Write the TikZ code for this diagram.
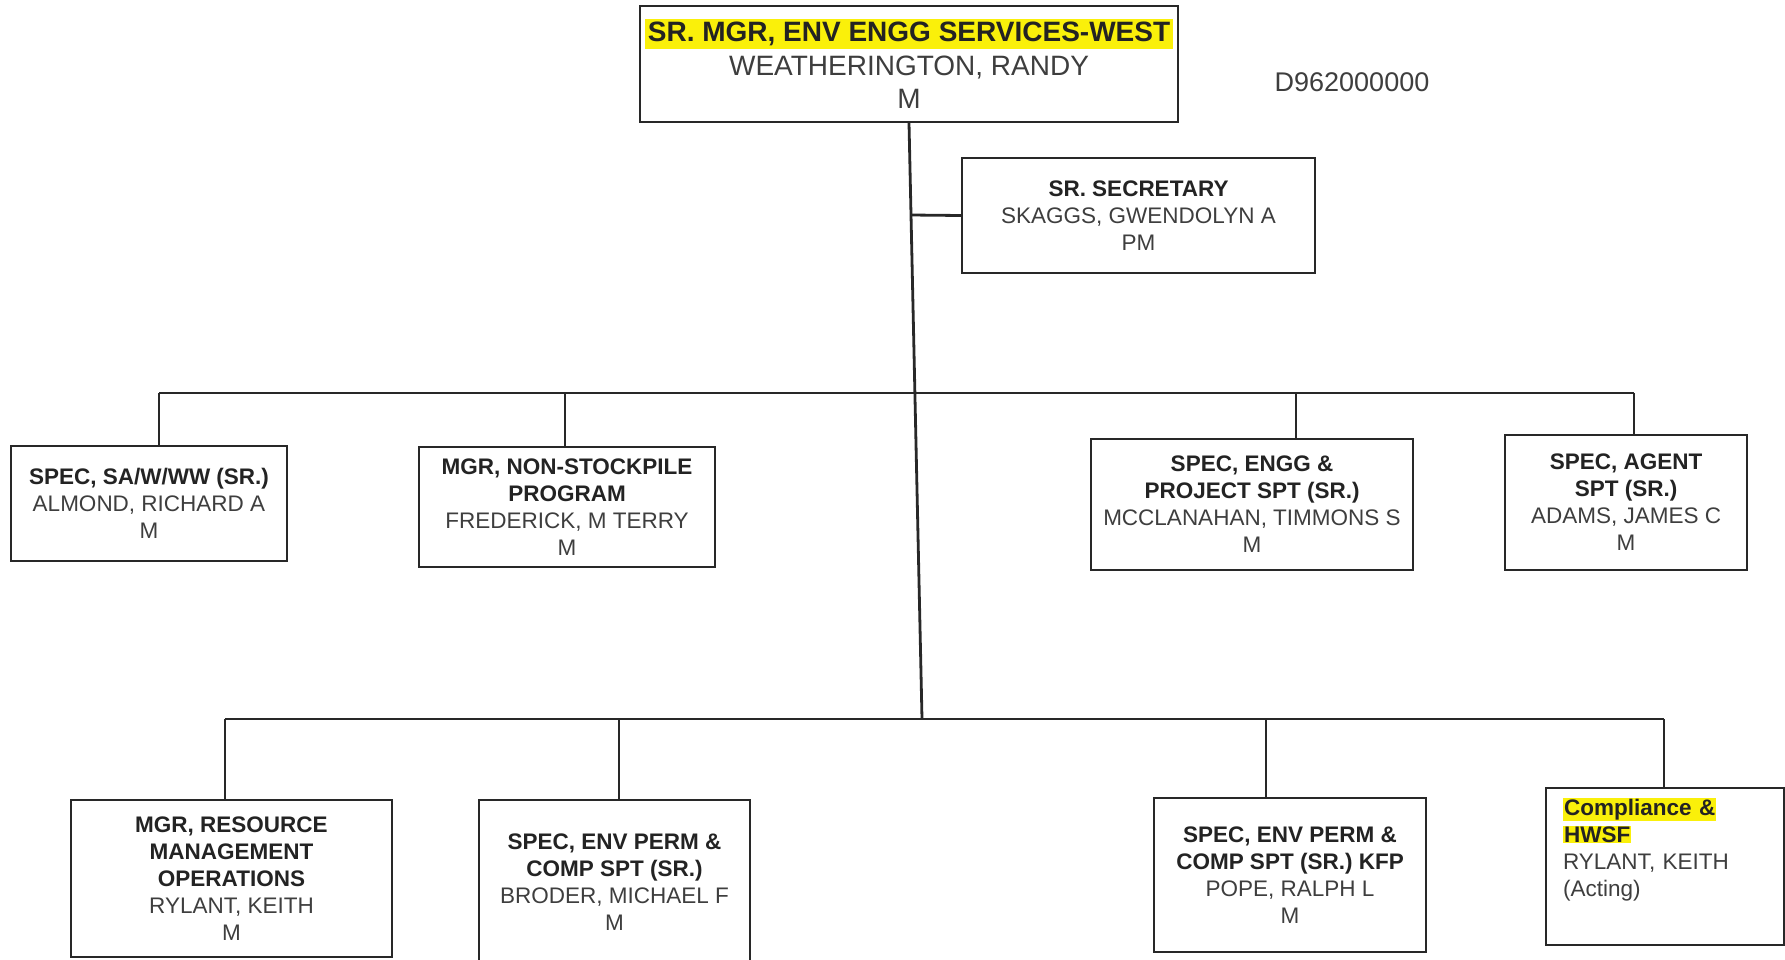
\documentclass[tikz,border=0pt]{standalone}
\usepackage{fontspec}
\setmainfont{Liberation Sans}
\definecolor{hly}{RGB}{250,240,10}
\definecolor{txt}{RGB}{62,62,62}
\definecolor{ttlc}{RGB}{35,35,35}
\definecolor{ln}{RGB}{40,40,40}
\newcommand{\postitle}[1]{{\color{ttlc}\bfseries #1}}
\newcommand{\hlmark}[1]{{\setlength{\fboxsep}{1pt}\colorbox{hly}{\color{ttlc}\bfseries #1}}}
\tikzset{
  orgbox/.style={draw=ln, line width=2.2pt, fill=white, inner sep=0pt, align=center,
    text=txt, font=\fontsize{22.5}{27}\selectfont},
  conn/.style={draw=ln, line width=2.8pt},
}
\begin{document}
\begin{tikzpicture}[x=1pt,y=-1pt]
\clip (0,0) rectangle (1785,959);
\fill[white] (0,0) rectangle (1785,959);

% junction coordinates
\coordinate (js) at (911,215);
\coordinate (ju) at (915,393);
\coordinate (jb) at (922,719);
\coordinate (d1) at (159,393);
\coordinate (d2) at (565,393);
\coordinate (d3) at (1296,393);
\coordinate (d4) at (1634,393);
\coordinate (e1) at (225,719);
\coordinate (e2) at (619,719);
\coordinate (e3) at (1266,719);
\coordinate (e4) at (1664,719);

% nodes
\node[orgbox, minimum width=538pt, minimum height=116pt, font=\fontsize{28}{33.5}\selectfont]
  (top) at (909,64) {{\setlength{\fboxsep}{3pt}\colorbox{hly}{\color{ttlc}\bfseries SR. MGR, ENV ENGG SERVICES-WEST}}\\WEATHERINGTON, RANDY\\M};
\node[text=txt, font=\fontsize{27}{32}\selectfont] (code) at (1352,82) {D962000000};
\node[orgbox, minimum width=353pt, minimum height=115pt] (sec) at (1138.5,215.5)
  {\postitle{SR. SECRETARY}\\SKAGGS, GWENDOLYN A\\PM};

\node[orgbox, minimum width=276pt, minimum height=115pt] (A) at (149,503.5)
  {\postitle{SPEC, SA/W/WW (SR.)}\\ALMOND, RICHARD A\\M};
\node[orgbox, minimum width=296pt, minimum height=120pt] (B) at (567,507)
  {\postitle{MGR, NON-STOCKPILE}\\\postitle{PROGRAM}\\FREDERICK, M TERRY\\M};
\node[orgbox, minimum width=322pt, minimum height=131pt] (C) at (1252,504.5)
  {\postitle{SPEC, ENGG \&}\\\postitle{PROJECT SPT (SR.)}\\MCCLANAHAN, TIMMONS S\\M};
\node[orgbox, minimum width=242pt, minimum height=135pt] (D) at (1626,502.5)
  {\postitle{SPEC, AGENT}\\\postitle{SPT (SR.)}\\ADAMS, JAMES C\\M};

\node[orgbox, minimum width=321pt, minimum height=157pt] (E) at (231.5,878.5)
  {\postitle{MGR, RESOURCE}\\\postitle{MANAGEMENT}\\\postitle{OPERATIONS}\\RYLANT, KEITH\\M};
\node[orgbox, minimum width=271pt, minimum height=164pt] (F) at (614.5,882)
  {\postitle{SPEC, ENV PERM \&}\\\postitle{COMP SPT (SR.)}\\BRODER, MICHAEL F\\M};
\node[orgbox, minimum width=272pt, minimum height=154pt] (G) at (1290,875)
  {\postitle{SPEC, ENV PERM \&}\\\postitle{COMP SPT (SR.) KFP}\\POPE, RALPH L\\M};
\node[orgbox, align=left, anchor=north west, text width=204pt, inner xsep=17pt,
  minimum height=157pt] (H) at (1545,787)
  {\hlmark{Compliance \&}\\\hlmark{HWSF}\\RYLANT, KEITH\\(Acting)\\[12pt]\mbox{}};

% connectors
\draw[conn] (top.south) -- (jb);
\draw[conn] (js) -- (sec.west);
\draw[conn] (d1) -- (d4);
\draw[conn] (d1) -- (d1 |- A.north);
\draw[conn] (d2) -- (d2 |- B.north);
\draw[conn] (d3) -- (d3 |- C.north);
\draw[conn] (d4) -- (d4 |- D.north);
\draw[conn] (e1) -- (e4);
\draw[conn] (e1) -- (e1 |- E.north);
\draw[conn] (e2) -- (e2 |- F.north);
\draw[conn] (e3) -- (e3 |- G.north);
\draw[conn] (e4) -- (e4 |- H.north);
\end{tikzpicture}
\end{document}
